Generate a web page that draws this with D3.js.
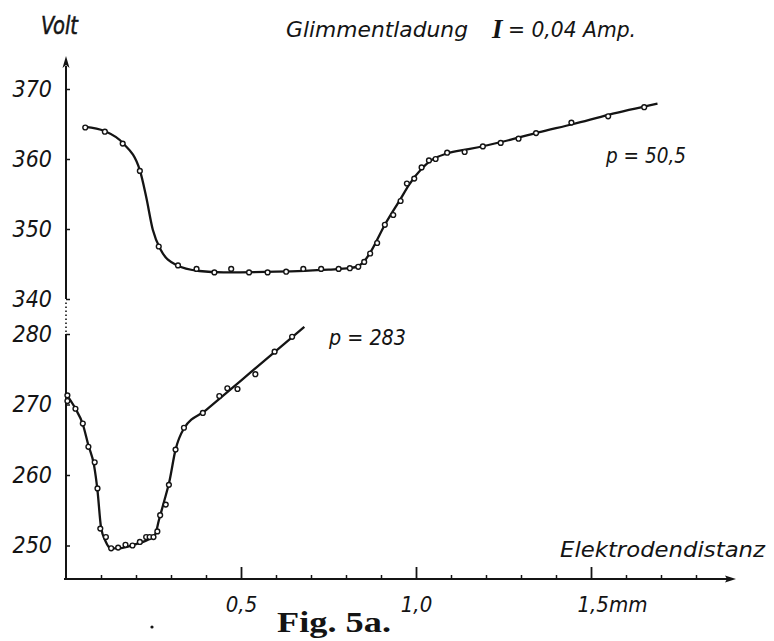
<!DOCTYPE html>
<html>
<head>
<meta charset="utf-8">
<script src="https://cdn.jsdelivr.net/npm/d3@7"></script>
<style>
  body { margin: 0; background: #fff; }
  svg { display: block; }
</style>
</head>
<body>
<div id="chart"></div>
<script>
// p = 50,5 : measured points (electrode distance in mm, volt)
const upperX = [0.055, 0.111, 0.162, 0.211, 0.265, 0.32, 0.373, 0.424, 0.472, 0.523, 0.576, 0.629,
  0.678, 0.729, 0.779, 0.811, 0.835, 0.852, 0.869, 0.889, 0.911, 0.935, 0.956, 0.974, 0.995,
  1.016, 1.037, 1.056, 1.089, 1.139, 1.191, 1.242, 1.293, 1.343, 1.444, 1.549, 1.652];
const upperV = [364.5, 363.9, 362.2, 358.3, 347.5, 344.8, 344.3, 343.8, 344.3, 343.8, 343.8, 343.9,
  344.3, 344.3, 344.3, 344.4, 344.6, 345.3, 346.5, 348.0, 350.6, 352.0, 354.0, 356.5, 357.2,
  358.8, 359.8, 360.0, 360.9, 361.0, 361.8, 362.3, 362.9, 363.7, 365.2, 366.1, 367.4];
// p = 50,5 : hand drawn curve
const upperFitX = [0.055, 0.11, 0.162, 0.211, 0.229, 0.248, 0.271, 0.314, 0.381, 0.45, 0.6, 0.75,
  0.81, 0.835, 0.852, 0.869, 0.911, 0.956, 0.98, 1.016, 1.04, 1.089, 1.15, 1.25, 1.35, 1.45,
  1.55, 1.69];
const upperFitV = [364.6, 364.0, 362.3, 358.4, 354.6, 349.9, 347.0, 344.9, 344.0, 343.8, 343.9, 344.2,
  344.4, 344.7, 345.4, 346.6, 350.6, 354.3, 356.3, 358.6, 359.7, 360.8, 361.4, 362.5, 363.8, 365.0,
  366.3, 367.9];

// p = 283 : measured points
const lowerX = [0.004, 0.004, 0.027, 0.048, 0.064, 0.082, 0.09, 0.098, 0.114, 0.129, 0.149, 0.17,
  0.19, 0.211, 0.229, 0.239, 0.25, 0.261, 0.269, 0.285, 0.294, 0.313, 0.337, 0.391, 0.438,
  0.461, 0.49, 0.541, 0.596, 0.646];
const lowerV = [271.3, 270.5, 269.4, 267.3, 264.0, 261.8, 258.1, 252.4, 251.2, 249.6, 249.7, 250.1,
  250.0, 250.5, 251.2, 251.2, 251.2, 252.0, 254.3, 255.8, 258.6, 263.6, 266.7, 268.8, 271.2,
  272.3, 272.2, 274.3, 277.5, 279.6];
// p = 283 : hand drawn curve
const lowerFitX = [0.0, 0.027, 0.048, 0.064, 0.08, 0.09, 0.1, 0.113, 0.128, 0.15, 0.2, 0.24, 0.255,
  0.265, 0.28, 0.295, 0.313, 0.337, 0.4, 0.5, 0.6, 0.681];
const lowerFitV = [271.5, 269.4, 267.2, 264.2, 261.4, 257.8, 252.6, 250.6, 249.6, 249.6, 250.2, 251.0,
  251.6, 253.5, 256.2, 259.0, 263.6, 266.6, 269.2, 273.4, 277.6, 281.0];

const upperTicks = [340, 350, 360, 370];
const lowerTicks = [250, 260, 270, 280];
const minorTicks = [0.1, 0.2, 0.3, 0.4, 0.6, 0.7, 0.8, 0.9, 1.1, 1.2, 1.3, 1.4, 1.6, 1.7, 1.8];
const majorTicks = [0.5, 1.0, 1.5];
const majorLabels = ["0,5", "1,0", "1,5mm"];

const W = 774, H = 641;
const INK = "#141414";
const HAND = "'Liberation Sans Narrow', 'DejaVu Sans Condensed', 'Liberation Sans', sans-serif";

const svg = d3.select("#chart").append("svg")
  .attr("width", W).attr("height", H)
  .style("background", "#fff");

// scales (both voltage scales share 7 px per volt)
const x = d3.scaleLinear().domain([0, 1.9]).range([66, 731]);
const yUp = d3.scaleLinear().domain([340, 370]).range([299, 89]);
const yLo = d3.scaleLinear().domain([250, 280]).range([545.5, 334]);
const axisY = 579;

// x axis
svg.append("g")
  .attr("transform", `translate(0,${axisY})`)
  .call(d3.axisBottom(x).tickValues(minorTicks).tickSize(-4).tickFormat(""))
  .call(g => g.select(".domain").remove())
  .call(g => g.selectAll("line").attr("stroke", INK).attr("stroke-width", 1.5));

const xMajor = svg.append("g")
  .attr("transform", `translate(0,${axisY})`)
  .call(d3.axisBottom(x).tickValues(majorTicks).tickSize(-12).tickPadding(17)
    .tickFormat((d, i) => majorLabels[i]))
  .call(g => g.select(".domain").remove());
xMajor.selectAll("line").attr("stroke", INK).attr("stroke-width", 1.8);
xMajor.selectAll("text")
  .attr("fill", INK)
  .style("font-family", HAND).style("font-style", "italic").style("font-size", "22px");
xMajor.selectAll("text").filter((d, i) => i === 2)
  .attr("text-anchor", "start").attr("x", -14);

svg.append("line")
  .attr("x1", 64).attr("x2", 728).attr("y1", axisY).attr("y2", axisY)
  .attr("stroke", INK).attr("stroke-width", 2);
svg.append("path")
  .attr("d", `M736,${axisY} L725,${axisY - 3.5} L727,${axisY} L725,${axisY + 3.5} Z`)
  .attr("fill", INK);

// y axis: lower part, dotted break, upper part with arrow
svg.append("line").attr("x1", 66).attr("x2", 66).attr("y1", axisY + 1).attr("y2", yLo(280))
  .attr("stroke", INK).attr("stroke-width", 2);
svg.append("line").attr("x1", 66).attr("x2", 66).attr("y1", yLo(280) - 2).attr("y2", yUp(340) + 2)
  .attr("stroke", INK).attr("stroke-width", 1.6).attr("stroke-dasharray", "1.5,2.5");
svg.append("line").attr("x1", 66).attr("x2", 66).attr("y1", yUp(340)).attr("y2", 66)
  .attr("stroke", INK).attr("stroke-width", 2);
svg.append("path").attr("d", "M66,56 L62.5,68 L66,65 L69.5,68 Z").attr("fill", INK);

function yAxis(scale, ticks) {
  const g = svg.append("g")
    .attr("transform", "translate(66,0)")
    .call(d3.axisLeft(scale).tickValues(ticks).tickSize(-4).tickPadding(14).tickFormat(d3.format("d")))
    .call(g => g.select(".domain").remove());
  g.selectAll("line").attr("stroke", INK).attr("stroke-width", 1.5);
  g.selectAll("text")
    .attr("fill", INK)
    .style("font-family", HAND).style("font-style", "italic").style("font-size", "23px");
}
yAxis(yUp, upperTicks);
yAxis(yLo, lowerTicks);

// curves
function curve(xs, vs, yScale) {
  const line = d3.line()
    .x(i => x(xs[i]))
    .y(i => yScale(vs[i]))
    .curve(d3.curveMonotoneX);
  svg.append("path")
    .attr("d", line(d3.range(xs.length)))
    .attr("fill", "none")
    .attr("stroke", INK)
    .attr("stroke-width", 2.3)
    .attr("stroke-linejoin", "round");
}
curve(upperFitX, upperFitV, yUp);
curve(lowerFitX, lowerFitV, yLo);

function points(xs, vs, yScale) {
  svg.append("g").selectAll("circle")
    .data(d3.range(xs.length))
    .join("circle")
    .attr("cx", i => x(xs[i]))
    .attr("cy", i => yScale(vs[i]))
    .attr("r", 2.4)
    .attr("fill", "#fff")
    .attr("stroke", INK)
    .attr("stroke-width", 1.4);
}
points(upperX, upperV, yUp);
points(lowerX, lowerV, yLo);

// texts
function label(txt, px, py, size, len) {
  const t = svg.append("text")
    .attr("x", px).attr("y", py)
    .attr("fill", INK)
    .style("font-family", HAND).style("font-style", "italic").style("font-size", size + "px")
    .text(txt);
  if (len) t.attr("textLength", len).attr("lengthAdjust", "spacingAndGlyphs");
  return t;
}
label("Volt", 41, 34, 24, 37).attr("stroke", INK).attr("stroke-width", 0.5);
label("Glimmentladung", 286, 37, 21, 182);
svg.append("text")
  .attr("x", 492).attr("y", 38)
  .attr("fill", INK)
  .style("font-family", "'Liberation Serif', serif")
  .style("font-style", "italic").style("font-weight", "bold").style("font-size", "27px")
  .text("I");
label("= 0,04 Amp.", 508, 37, 21, 128);
label("p = 50,5", 606, 163, 21, 80);
label("p = 283", 329, 345, 21, 77);
label("Elektrodendistanz", 560, 557, 21, 205);

svg.append("text")
  .attr("x", 277).attr("y", 632)
  .attr("fill", INK)
  .attr("textLength", 114).attr("lengthAdjust", "spacingAndGlyphs")
  .style("font-family", "'Liberation Serif', 'DejaVu Serif', serif")
  .style("font-weight", "bold").style("font-size", "29px")
  .text("Fig. 5a.");

svg.append("circle").attr("cx", 152).attr("cy", 627).attr("r", 1.6).attr("fill", INK);
</script>
</body>
</html>
